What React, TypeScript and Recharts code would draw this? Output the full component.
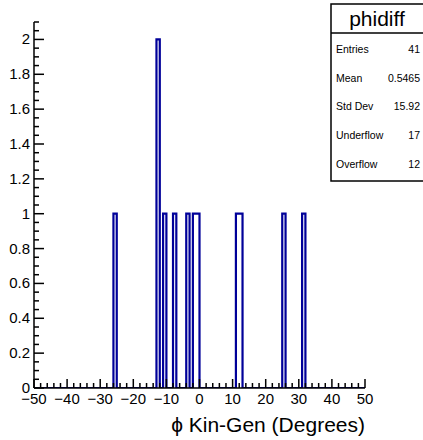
import React from 'react';
import { ComposedChart, Line, XAxis, YAxis } from 'recharts';

// non-empty bins of phidiff (bin width 1 degree, -50..50)
const binLowEdges = [-26, -13, -11, -8, -4, -2, -1, 11, 12, 25, 31];
const binCounts = [1, 2, 1, 1, 1, 1, 1, 1, 1, 1, 1];

const xMajorTicks = [-50, -40, -30, -20, -10, 0, 10, 20, 30, 40, 50];
const yMajorTicks = [0, 0.2, 0.4, 0.6, 0.8, 1, 1.2, 1.4, 1.6, 1.8, 2];

const statsLabels = ['Entries', 'Mean', 'Std Dev', 'Underflow', 'Overflow'];
const statsValues = ['41', '0.5465', '15.92', '17', '12'];

const FONT = '"Liberation Sans", Arial, Helvetica, sans-serif';
const LINE = '#000099';

// one point per bin edge, drawn as a step outline
const histData: { x: number; n: number }[] = [];
for (let e = -50; e <= 50; e++) {
  const i = binLowEdges.indexOf(e);
  histData.push({ x: e, n: i >= 0 ? binCounts[i] : 0 });
}

// minor tick positions (every 2 on x, every 0.05 on y)
const xTicks: number[] = [];
for (let k = -25; k <= 25; k++) xTicks.push(k * 2);
const yTicks: number[] = [];
for (let k = 0; k <= 42; k++) yTicks.push(Math.round(k * 5) / 100);

const fmtX = (v: number) => (v < 0 ? '\u2212' + Math.abs(v) : String(v));

const XTick = (props: any) => {
  const { x, y, payload } = props;
  const v = payload.value;
  const major = xMajorTicks.includes(v);
  return (
    <g>
      <line x1={x} x2={x} y1={y} y2={y - (major ? 9 : 5)} stroke="#000" strokeWidth={1.5} />
      {major && (
        <text x={x} y={y + 16} textAnchor="middle" fontFamily={FONT} fontSize={15} fill="#000">
          {fmtX(v)}
        </text>
      )}
    </g>
  );
};

const YTick = (props: any) => {
  const { x, y, payload } = props;
  const v = payload.value;
  const major = yMajorTicks.some((t) => Math.abs(t - v) < 1e-6);
  return (
    <g>
      <line x1={x} x2={x + (major ? 10 : 5)} y1={y} y2={y} stroke="#000" strokeWidth={1.5} />
      {major && (
        <text x={x - 4} y={y + 5} textAnchor="end" fontFamily={FONT} fontSize={15} fill="#000">
          {String(v)}
        </text>
      )}
    </g>
  );
};

export default function App() {
  return (
    <div style={{ position: 'absolute', left: 0, top: 0, width: 423, height: 440, background: '#fff' }}>
      <ComposedChart
        width={423}
        height={440}
        data={histData}
        margin={{ top: 22, right: 58, bottom: 0, left: 0 }}
      >
        <XAxis
          dataKey="x"
          type="number"
          domain={[-50, 50]}
          ticks={xTicks}
          interval={0}
          tickSize={0}
          tickMargin={0}
          tickLine={false}
          tick={<XTick />}
          height={52}
          axisLine={{ stroke: '#000', strokeWidth: 1.5 }}
          allowDataOverflow
        />
        <XAxis
          xAxisId="top"
          orientation="top"
          type="number"
          domain={[-50, 50]}
          tick={false}
          tickLine={false}
          height={0}
          axisLine={{ stroke: '#000', strokeWidth: 1.5 }}
        />
        <YAxis
          type="number"
          domain={[0, 2.1]}
          ticks={yTicks}
          interval={0}
          tickSize={0}
          tickMargin={0}
          tickLine={false}
          tick={<YTick />}
          width={34}
          axisLine={{ stroke: '#000', strokeWidth: 1.5 }}
          allowDataOverflow
        />
        <YAxis
          yAxisId="right"
          orientation="right"
          type="number"
          domain={[0, 2.1]}
          tick={false}
          tickLine={false}
          width={0}
          axisLine={{ stroke: '#000', strokeWidth: 1.5 }}
        />
        <Line
          type="stepAfter"
          dataKey="n"
          stroke={LINE}
          strokeWidth={2.2}
          dot={false}
          activeDot={false}
          isAnimationActive={false}
        />
      </ComposedChart>
      <svg
        width={423}
        height={440}
        style={{ position: 'absolute', left: 0, top: 0, pointerEvents: 'none' }}
      >
        <text x={330} y={-4} textAnchor="end" fontFamily={FONT} fontSize={21} fill="#000">
          phi Kin-Gen diff tagging
        </text>
        <rect x={331} y={4} width={96} height={177} fill="#fff" stroke="#000" strokeWidth={1.5} />
        <line x1={331} x2={423} y1={33} y2={33} stroke="#000" strokeWidth={1.5} />
        <text x={377} y={26} textAnchor="middle" fontFamily={FONT} fontSize={21} fill="#000">
          phidiff
        </text>
        {statsLabels.map((s, i) => (
          <g key={s}>
            <text x={336} y={53 + i * 28.7} fontFamily={FONT} fontSize={10.5} fill="#000">
              {s}
            </text>
            <text x={420} y={53 + i * 28.7} textAnchor="end" fontFamily={FONT} fontSize={10.5} fill="#000">
              {statsValues[i]}
            </text>
          </g>
        ))}
        <text x={365} y={432} textAnchor="end" fontFamily={FONT} fontSize={21} fill="#000">
          {'\u03D5 Kin-Gen (Degrees)'}
        </text>
      </svg>
    </div>
  );
}
